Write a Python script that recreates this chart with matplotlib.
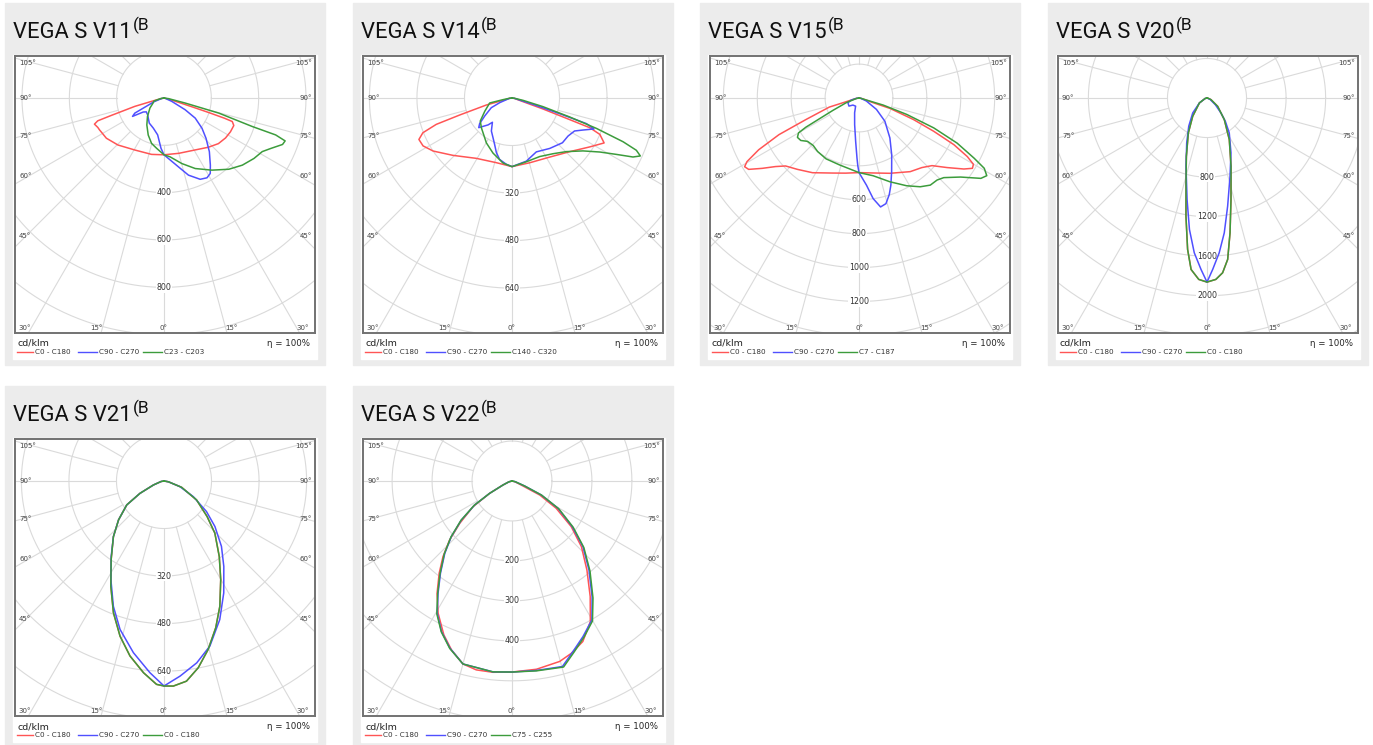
import numpy as np
import matplotlib.pyplot as plt
from matplotlib.patches import Rectangle
from matplotlib.lines import Line2D

W, H = 1373, 745

# luminous intensity in cd/klm as (gamma deg, value), one list per half plane

# VEGA S V11
V11_C0 = [(0, 240), (15, 242), (31, 256), (42, 280), (50, 300), (57, 310), (63, 315), (68.5, 317),
          (71, 305), (71.5, 270), (72, 200), (72.5, 130), (73.5, 60), (76, 20), (90, 0)]
V11_C180 = [(0, 240), (12.4, 244), (29.3, 252), (44.4, 278), (55.1, 297), (60, 300), (63.7, 304),
            (66, 306), (69.4, 314), (71, 296), (71.7, 235), (74, 128), (74.9, 55), (78, 15), (90, 0)]
V11_C90 = [(0, 240), (4.1, 256), (11.8, 297), (17.6, 342), (24, 376), (28.3, 383), (31.5, 374),
           (34.6, 345), (40.2, 297), (46.2, 246), (51.5, 205), (57.2, 157), (61, 102), (66.5, 36),
           (75, 5), (90, 0)]
V11_C270 = [(0, 240), (3.4, 213), (9.8, 158), (19.6, 135), (30.4, 123), (44.4, 99), (52, 95),
            (56, 106), (59.7, 154), (62.6, 139), (65, 80), (69.4, 45), (78, 10), (90, 0)]
V11_C23 = [(0, 240), (5.9, 250), (15.2, 287), (23.9, 326), (33.6, 366), (42.3, 407), (49.4, 436),
           (56.1, 458), (61.4, 473), (64.7, 499), (68.6, 538), (70.5, 543), (71.7, 497),
           (72.1, 392), (74.6, 240), (76.6, 92), (82, 20), (90, 0)]
V11_C203 = [(0, 240), (8.3, 215), (15.3, 199), (23.1, 170), (32.5, 135), (41.7, 105), (54.5, 73),
            (66, 50), (73, 45), (80, 15), (90, 0)]

# VEGA S V14
V14_C0 = [(0, 231), (15.3, 226), (32.6, 236), (47, 265), (57.8, 309), (64, 345), (67.5, 320),
          (69.1, 280), (69.5, 200), (70.5, 110), (71.6, 39), (80, 8), (90, 0)]
V14_C180 = [(0, 231), (13.6, 224), (30.6, 236), (45.8, 277), (56.1, 320), (61.7, 340), (66, 343),
            (68.7, 322), (70.8, 270), (72, 185), (74.7, 90), (75.5, 31), (82, 8), (90, 0)]
V14_C90 = [(0, 231), (12.8, 218), (24.3, 199), (36.8, 212), (48.4, 227), (55.8, 228), (62.2, 238),
           (65.7, 262), (69.3, 295), (71, 265), (71.8, 169), (73.2, 74), (80, 10), (90, 0)]
V14_C270 = [(0, 231), (4.9, 224), (11.4, 211), (16, 191), (20.5, 167), (25.6, 148), (32, 131),
            (38.9, 105), (41.6, 121), (48.3, 150), (51.6, 139), (56.6, 110), (64.9, 77), (69.3, 44),
            (80, 10), (90, 0)]
V14_C140 = [(0, 231), (12.7, 220), (25.3, 218), (36.4, 233), (45.4, 257), (53.3, 298), (58.4, 347),
            (61.6, 399), (64, 453), (65.7, 474), (67.2, 454), (68.5, 402), (70.2, 302), (71.8, 204),
            (74.4, 108), (78, 38), (85, 8), (90, 0)]
V14_C320 = [(0, 231), (7.9, 221), (19.1, 196), (29.7, 174), (45.6, 144), (54, 132), (64, 102),
            (77.4, 77), (79.5, 31), (85, 8), (90, 0)]

# VEGA S V15
V15_C0 = [(0, 440), (10.7, 450), (22.3, 480), (34.8, 529), (42.1, 553), (47.2, 587), (51.7, 662),
          (55.9, 747), (58.2, 787), (59.9, 780), (61.6, 726), (63.8, 624), (66, 482), (68.4, 346),
          (71.4, 193), (71.6, 88), (78, 20), (90, 0)]
V15_C180 = [(0, 440), (10, 450), (19.3, 469), (31.9, 519), (40.8, 556), (47.2, 590), (50.6, 637),
            (54, 706), (57.1, 775), (59, 787), (60.4, 760), (62.7, 666), (65.4, 519), (67.9, 338),
            (73, 183), (73.9, 79), (80, 20), (90, 0)]
V15_C90 = [(0, 440), (4.9, 516), (8, 599), (11.2, 655), (14.3, 643), (17.4, 597), (20.1, 547),
           (23.9, 475), (29.9, 387), (37.7, 298), (48.1, 205), (56.8, 123), (67.8, 47), (80, 10),
           (90, 0)]
V15_C270 = [(0, 440), (1, 400), (1.9, 355), (4.4, 257), (9.3, 159), (16.5, 91), (22.6, 52),
            (40.6, 55), (51.3, 76), (67, 71), (75.4, 47), (82, 15), (90, 0)]
V15_C7 = [(0, 440), (10.3, 466), (20.3, 527), (28.5, 589), (34.6, 636), (39.3, 664), (43.6, 668),
          (46.8, 686), (52.1, 759), (56.6, 861), (58.7, 882), (60.7, 847), (62.4, 766), (65.3, 637),
          (68.2, 475), (71, 298), (73.7, 149), (74.7, 45), (82, 10), (90, 0)]
V15_C187 = [(0, 440), (16.2, 411), (28.4, 408), (37.7, 399), (44, 389), (49.9, 397), (53.9, 425),
            (57.4, 431), (60, 412), (61.2, 358), (62.3, 264), (64.6, 171), (69.8, 80), (80, 15),
            (90, 0)]

# VEGA S V20
V20_C0 = [(0, 1862), (2.8, 1837), (5.1, 1775), (7.3, 1646), (9.7, 1383), (13.3, 1055), (19.4, 732),
          (28.2, 477), (38.7, 280), (52, 137), (67.4, 44), (80, 10), (90, 0)]
V20_C180 = [(0, 1862), (2.6, 1837), (5.3, 1742), (7.3, 1544), (10.1, 1214), (13.9, 884),
            (19.5, 625), (28.1, 401), (38, 235), (56.9, 92), (75, 20), (90, 0)]
V20_C90 = [(0, 1862), (1.9, 1735), (4.5, 1571), (7.3, 1375), (10.8, 1114), (16.4, 825), (23.6, 606),
           (32.5, 419), (38.2, 300), (43, 207), (51.3, 108), (65, 35), (90, 0)]
V20_C270 = [(0, 1862), (2, 1735), (4.7, 1571), (7.6, 1342), (11.1, 1047), (17.1, 722), (24.3, 499),
            (32.9, 340), (43.7, 209), (56.9, 92), (75, 20), (90, 0)]

# VEGA S V21
V21_C0 = [(0, 690), (2.6, 691), (6.4, 678), (10.4, 639), (14.7, 586), (19.4, 524), (24, 462),
          (29.9, 383), (36.2, 315), (44.3, 245), (50.5, 188), (59.8, 127), (70.3, 63), (80, 15),
          (90, 0)]
V21_C180 = [(0, 690), (2.1, 685), (6.1, 649), (11, 600), (15.8, 543), (21, 475), (26.8, 397),
            (33.9, 319), (42.3, 253), (49.5, 201), (57.3, 149), (62.8, 91), (69.4, 38), (80, 10),
            (90, 0)]
V21_C90 = [(0, 690), (4.7, 659), (10.2, 622), (15.5, 577), (21.9, 503), (28.1, 427), (35, 351),
           (41.3, 293), (48.2, 230), (54.3, 176), (61.9, 112), (70.5, 57), (80, 15), (90, 0)]
V21_C270 = [(0, 690), (4.2, 647), (10.1, 587), (16.5, 521), (22, 455), (28.3, 377), (35, 310),
            (42.3, 253), (49.5, 201), (57.3, 149), (62.8, 91), (69.4, 38), (80, 10), (90, 0)]

# VEGA S V22
V22_C0 = [(0, 478), (7.4, 475), (14.8, 467), (19, 456), (23.8, 439), (29.1, 403), (34.1, 349),
          (40.1, 291), (46.6, 239), (52.4, 187), (58.3, 130), (63.2, 78), (65.6, 30), (75, 8),
          (90, 0)]
V22_C180 = [(0, 478), (5.7, 481), (10.7, 481), (15, 474), (19.7, 449), (23.9, 421), (29.2, 379),
            (33.7, 338), (38.3, 294), (42.4, 256), (46.6, 215), (51, 168), (56.6, 117), (61.1, 64),
            (66, 25), (75, 8), (90, 0)]
V22_C90 = [(0, 478), (7.3, 478), (15.2, 481), (19.7, 453), (24.5, 428), (29.9, 401), (34.7, 352),
           (40.9, 294), (47.2, 242), (52.9, 189), (59.3, 134), (64.5, 81), (68.5, 34), (78, 8),
           (90, 0)]
V22_C270 = [(0, 478), (5.7, 480), (15, 474), (20.4, 446), (25.1, 416), (29.5, 380), (33.4, 336),
            (37.8, 292), (42.9, 247), (47.5, 206), (52.4, 160), (57.3, 111), (61.1, 64), (66, 25),
            (75, 8), (90, 0)]
V22_C75 = [(0, 478), (7.3, 479), (15.5, 483), (20, 455), (24.8, 430), (29.9, 404), (34.7, 356),
           (40.9, 298), (47.2, 245), (52.9, 192), (59.3, 136), (64.5, 82), (68.5, 34), (78, 8),
           (90, 0)]
V22_C255 = [(0, 478), (5.7, 480), (15, 474), (20.4, 447), (25.1, 417), (29.5, 382), (33.4, 338),
            (37.8, 294), (42.9, 249), (47.5, 207), (52.4, 161), (57.3, 112), (61.1, 64), (66, 25),
            (75, 8), (90, 0)]

TITLES = ["VEGA S V11", "VEGA S V14", "VEGA S V15", "VEGA S V20", "VEGA S V21", "VEGA S V22"]
RING_STEP = [200, 160, 200, 400, 160, 100]
RING_LABELS = [[400, 600, 800], [320, 480, 640], [600, 800, 1000, 1200],
               [800, 1200, 1600, 2000], [320, 480, 640], [200, 300, 400]]
LEGENDS = [["C0 - C180", "C90 - C270", "C23 - C203"],
           ["C0 - C180", "C90 - C270", "C140 - C320"],
           ["C0 - C180", "C90 - C270", "C7 - C187"],
           ["C0 - C180", "C90 - C270", "C0 - C180"],
           ["C0 - C180", "C90 - C270", "C0 - C180"],
           ["C0 - C180", "C90 - C270", "C75 - C255"]]
CURVES = [[(V11_C0, V11_C180), (V11_C90, V11_C270), (V11_C23, V11_C203)],
          [(V14_C0, V14_C180), (V14_C90, V14_C270), (V14_C140, V14_C320)],
          [(V15_C0, V15_C180), (V15_C90, V15_C270), (V15_C7, V15_C187)],
          [(V20_C0, V20_C180), (V20_C90, V20_C270), (V20_C0, V20_C180)],
          [(V21_C0, V21_C180), (V21_C90, V21_C270), (V21_C0, V21_C180)],
          [(V22_C0, V22_C180), (V22_C90, V22_C270), (V22_C75, V22_C255)]]
# value at the bottom edge of each diagram
RMAX = [993, 791, 1386, 2377, 791, 588]

COLORS = ["#ff5555", "#5050ff", "#3c9c3c"]
GRID = "#dadada"
PANEL_BG = "#ececec"

PANEL_X = [5, 353, 700, 1048]
PANEL_Y = [3, 386]


def fx(x):
    return x / W


def fy(y):
    return 1 - y / H


fig = plt.figure(figsize=(W / 100, H / 100), dpi=100)
fig.patch.set_facecolor("white")
renderer = fig.canvas.get_renderer()

for n in range(6):
    left = PANEL_X[n % 4]
    top = PANEL_Y[n // 4]
    rmax = RMAX[n]
    step = RING_STEP[n]
    s = 235 / rmax  # pixels per cd/klm

    fig.add_artist(Rectangle((fx(left), fy(top + 362)), 320 / W, 362 / H,
                             transform=fig.transFigure, color=PANEL_BG, zorder=0))
    fig.add_artist(Rectangle((fx(left + 8), fy(top + 356)), 304 / W, 304 / H,
                             transform=fig.transFigure, color="white", zorder=0))

    # title with raised suffix
    t = fig.text(fx(left + 8), fy(top + 35), TITLES[n], fontsize=15.8, family="Roboto",
                 va="baseline", color="#111111")
    bb = t.get_window_extent(renderer)
    fig.text((bb.x1 + 1) / W, fy(top + 27), "(B", fontsize=12.5, family="Roboto",
             va="baseline", color="#111111")

    ax = fig.add_axes([fx(left + 10), fy(top + 330), 300 / W, 277 / H])
    ax.set_xlim(-149 / s, 151 / s)
    ax.set_ylim(-rmax, 42 / s)
    ax.set_xticks([])
    ax.set_yticks([])
    for sp in ax.spines.values():
        sp.set_color("#727272")
        sp.set_linewidth(1.4)

    # grid: rings and spokes outside the first ring
    th = np.linspace(0, 2 * np.pi, 361)
    for k in range(1, int(3 * rmax / step) + 2):
        r = k * step
        ax.plot(r * np.cos(th), r * np.sin(th), color=GRID, lw=0.8, zorder=1)
    for a in range(0, 360, 15):
        g = np.radians(a)
        ax.plot([step * np.sin(g), 4 * rmax * np.sin(g)],
                [-step * np.cos(g), -4 * rmax * np.cos(g)], color=GRID, lw=0.8, zorder=1)

    for r in RING_LABELS[n]:
        ax.text(0, -r, str(r), ha="center", va="center", fontsize=5.7, color="#333333",
                zorder=2, bbox=dict(fc="white", ec="none", pad=0.5))

    # angle labels on the side edges
    d = 141 / s
    for a in [45, 60, 75, 90, 105]:
        g = np.radians(a)
        y = -d * np.cos(g) / np.sin(g)
        va = "bottom" if a < 75 else ("top" if a > 90 else "center")
        ax.text(-145 / s, y, f"{a}°", ha="left", va=va, fontsize=5, color="#444444",
                clip_on=False, zorder=2)
        ax.text(148 / s, y, f"{a}°", ha="right", va=va, fontsize=5, color="#444444",
                clip_on=False, zorder=2)
    # angle labels on the bottom edge
    yb = -rmax + 5 / s
    for a in [0, 15, 30]:
        xb = (rmax - 5 / s) * np.tan(np.radians(a))
        if a == 0:
            ax.text(0, yb, "0°", ha="center", va="center", fontsize=5, color="#444444", zorder=2)
        else:
            ax.text(-xb, yb, f"{a}°", ha="right", va="center", fontsize=5, color="#444444",
                    zorder=2)
            ax.text(xb, yb, f"{a}°", ha="left", va="center", fontsize=5, color="#444444",
                    zorder=2)

    # intensity curves
    for (right, left_half), col in zip(CURVES[n], COLORS):
        gr = np.radians([p[0] for p in right])
        ir = np.array([p[1] for p in right], dtype=float)
        gl = np.radians([p[0] for p in left_half])[::-1]
        il = np.array([p[1] for p in left_half], dtype=float)[::-1]
        x = np.concatenate([-il * np.sin(gl), ir * np.sin(gr)])
        y = np.concatenate([-il * np.cos(gl), -ir * np.cos(gr)])
        ax.plot(x, y, color=col, lw=1.1, zorder=3)

    # legend under the diagram
    fig.text(fx(left + 12), fy(top + 343), "cd/klm", fontsize=6.8, color="#222222",
             va="baseline")
    fig.text(fx(left + 305), fy(top + 343), "η = 100%", fontsize=6.2, color="#222222",
             va="baseline", ha="right")
    for (x0, x1), name, col in zip([(12, 28), (73, 92), (138, 157)], LEGENDS[n], COLORS):
        fig.add_artist(Line2D([fx(left + x0), fx(left + x1)], [fy(top + 349)] * 2,
                              transform=fig.transFigure, color=col, lw=1.0))
        fig.text(fx(left + x1 + 2), fy(top + 349), name, fontsize=5.2, color="#333333",
                 va="center")

fig.savefig("out.png", dpi=100)
